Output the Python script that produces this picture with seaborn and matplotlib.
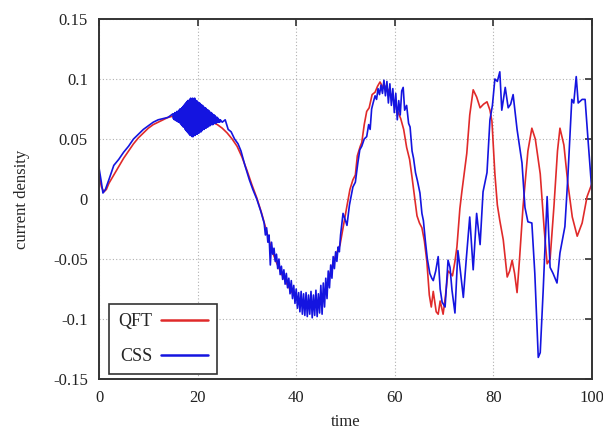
import matplotlib
matplotlib.use("Agg")
import matplotlib.pyplot as plt
import pandas as pd
import seaborn as sns

# ---------------- data ----------------
qft_time = [0, 0.5, 1.0, 1.5, 2, 3, 4, 5, 6, 7, 8, 9, 10, 11, 12, 13, 14, 15, 16, 17,
            18, 19, 20, 21, 22, 23, 24, 25, 26, 27, 28, 29, 30, 31, 32, 33, 34, 35, 36,
            37, 38, 39, 40, 41, 42, 43, 44, 45, 46, 46.8, 47.5, 48.2, 48.9, 49.5, 50.2,
            50.9, 51.5, 52.0, 52.4, 53.0, 53.3, 53.8, 54.3, 54.8, 55.4, 56.0, 56.5, 57.0,
            57.6, 58.2, 58.8, 59.4, 60.0, 60.6, 61.2, 61.8, 62.4, 63.0, 63.5, 64.0, 64.5,
            65.0, 65.5, 66.0, 66.5, 67.0, 67.4, 67.8, 68.4, 68.8, 69.2, 69.8, 70.3, 70.8,
            71.3, 71.7, 72.2, 72.6, 73.2, 73.6, 74.2, 74.6, 75.2, 75.9, 76.6, 77.3, 78.0,
            78.7, 79.3, 79.7, 80.3, 80.8, 81.3, 82.0, 82.8, 83.3, 83.8, 84.3, 84.8, 85.3,
            86.0, 87.0, 87.8, 88.5, 89.5, 90.3, 90.9, 91.5, 92.3, 93.0, 93.5, 94.3, 95.1,
            96.0, 97.0, 98.0, 99.0, 100.0]
qft_current = [0.020, 0.010, 0.006, 0.008, 0.013, 0.020, 0.027, 0.034, 0.040, 0.046,
               0.051, 0.055, 0.059, 0.062, 0.064, 0.066, 0.068, 0.069, 0.070, 0.070,
               0.0705, 0.070, 0.069, 0.068, 0.066, 0.064, 0.062, 0.059, 0.055, 0.050,
               0.044, 0.035, 0.024, 0.012, 0.001, -0.012, -0.027, -0.042, -0.053, -0.062,
               -0.070, -0.077, -0.082, -0.086, -0.088, -0.089, -0.087, -0.083, -0.075,
               -0.063, -0.053, -0.045, -0.038, -0.024, -0.008, 0.008, 0.016, 0.020, 0.036,
               0.044, 0.047, 0.062, 0.073, 0.076, 0.087, 0.089, 0.094, 0.0975, 0.093,
               0.094, 0.090, 0.086, 0.080, 0.073, 0.067, 0.058, 0.043, 0.033, 0.018,
               0.002, -0.014, -0.020, -0.024, -0.035, -0.052, -0.080, -0.090, -0.077,
               -0.094, -0.096, -0.085, -0.096, -0.080, -0.060, -0.062, -0.064, -0.052,
               -0.040, -0.008, 0.006, 0.025, 0.038, 0.070, 0.091, 0.085, 0.076, 0.079,
               0.081, 0.074, 0.065, 0.021, -0.005, -0.018, -0.034, -0.065, -0.060, -0.051,
               -0.062, -0.078, -0.050, -0.007, 0.040, 0.059, 0.050, 0.021, -0.025, -0.054,
               -0.050, -0.005, 0.040, 0.059, 0.045, 0.013, -0.015, -0.031, -0.020, 0.002,
               0.013]

# CSS: early smooth part
css_time_a = [0, 0.4, 0.8, 1.3, 2, 3, 4, 5, 6, 7, 8, 9, 10, 11, 12, 13, 14]
css_current_a = [0.026, 0.016, 0.005, 0.008, 0.016, 0.028, 0.033, 0.039, 0.044, 0.050,
                 0.054, 0.058, 0.061, 0.064, 0.066, 0.067, 0.068]
# CSS: dense fast oscillation around the first maximum
css_time_b = [15.0, 15.1, 15.2, 15.3, 15.4, 15.5, 15.6, 15.7, 15.8, 15.9,
              16.0, 16.1, 16.2, 16.3, 16.4, 16.5, 16.6, 16.7, 16.8, 16.9,
              17.0, 17.1, 17.2, 17.3, 17.4, 17.5, 17.6, 17.7, 17.8, 17.9,
              18.0, 18.1, 18.2, 18.3, 18.4, 18.5, 18.6, 18.7, 18.8, 18.9,
              19.0, 19.1, 19.2, 19.3, 19.4, 19.5, 19.6, 19.7, 19.8, 19.9,
              20.0, 20.1, 20.2, 20.3, 20.4, 20.5, 20.6, 20.7, 20.8, 20.9,
              21.0, 21.1, 21.2, 21.3, 21.4, 21.5, 21.6, 21.7, 21.8, 21.9,
              22.0, 22.1, 22.2, 22.3, 22.4, 22.5, 22.6, 22.7, 22.8, 22.9,
              23.0, 23.1, 23.2, 23.3, 23.4, 23.5, 23.6, 23.7, 23.8, 23.9,
              24.0, 24.1, 24.2, 24.3, 24.4, 24.5, 24.6]
css_current_b = [0.071, 0.067, 0.071, 0.066, 0.072, 0.066, 0.072, 0.065, 0.073, 0.065,
                 0.073, 0.064, 0.074, 0.064, 0.075, 0.063, 0.075, 0.062, 0.076, 0.061,
                 0.077, 0.060, 0.078, 0.060, 0.079, 0.058, 0.080, 0.057, 0.081, 0.056,
                 0.082, 0.055, 0.082, 0.054, 0.083, 0.053, 0.084, 0.053, 0.083, 0.052,
                 0.084, 0.052, 0.083, 0.053, 0.084, 0.053, 0.082, 0.054, 0.082, 0.054,
                 0.081, 0.055, 0.080, 0.055, 0.080, 0.056, 0.079, 0.056, 0.078, 0.057,
                 0.078, 0.058, 0.077, 0.058, 0.076, 0.059, 0.076, 0.059, 0.075, 0.060,
                 0.074, 0.060, 0.074, 0.061, 0.073, 0.061, 0.072, 0.062, 0.072, 0.062,
                 0.071, 0.062, 0.070, 0.063, 0.070, 0.063, 0.069, 0.063, 0.068, 0.064,
                 0.068, 0.064, 0.067, 0.064, 0.066, 0.064, 0.066]
# CSS: remainder
css_time_c = [25.0, 25.6, 26.2, 26.8, 27.5, 28.2, 28.8, 29.6, 30.5, 31.2, 32.0, 32.8,
              33.50, 33.75, 34.00, 34.25, 34.50, 34.75, 35.00, 35.25, 35.50, 35.75, 36.00,
              36.25, 36.50, 36.75, 37.00, 37.25, 37.50, 37.75, 38.00, 38.25, 38.50, 38.75,
              39.00, 39.25, 39.50, 39.75, 40.00, 40.25, 40.50, 40.75, 41.00, 41.25, 41.50,
              41.75, 42.00, 42.25, 42.50, 42.75, 43.00, 43.25, 43.50, 43.75, 44.00, 44.25,
              44.50, 44.75, 45.00, 45.25, 45.50, 45.75, 46.00, 46.25, 46.50, 46.75, 47.00,
              47.25, 47.50, 47.75, 48.00, 48.25, 48.50, 48.75, 49.00,
              49.5, 50.0, 50.3, 50.8, 51.5, 52.0, 52.5, 52.9, 53.3, 53.8, 54.3, 54.7, 55.0,
              55.3, 55.6, 56.0, 56.3, 56.6, 56.9, 57.2, 57.5, 57.8, 58.1, 58.4, 58.7, 59.0,
              59.3, 59.6, 59.9, 60.2, 60.5, 60.8, 61.1, 61.4, 61.7, 62.0, 62.4, 62.8, 63.1,
              63.5, 63.8, 64.2, 64.6, 65.1, 65.5, 65.8, 66.2, 66.6, 67.1, 67.5, 67.8, 68.3,
              68.8, 69.2, 69.6, 70.2, 70.8, 71.2, 71.6, 72.2, 72.8, 73.3, 73.9, 74.5, 75.2,
              75.9, 76.6, 77.3, 77.9, 78.7, 79.3, 79.8, 80.3, 80.8, 81.3, 81.7, 82.4, 83.0,
              83.5, 84.0, 84.8, 85.8, 86.4, 87.0, 87.8, 88.4, 89.1, 89.5, 90.1, 90.9, 91.5,
              92.1, 92.9, 93.5, 94.5, 95.1, 95.9, 96.3, 96.8, 97.2, 98.0, 98.6, 99.2, 100.0]
css_current_c = [0.064, 0.066, 0.058, 0.056, 0.050, 0.046, 0.040, 0.028, 0.016, 0.008,
                 0.000, -0.010,
                 -0.020, -0.030, -0.024, -0.036, -0.030, -0.055, -0.036, -0.046, -0.041,
                 -0.052, -0.046, -0.058, -0.050, -0.063, -0.056, -0.067, -0.059, -0.071,
                 -0.062, -0.074, -0.066, -0.079, -0.068, -0.083, -0.072, -0.087, -0.075,
                 -0.091, -0.078, -0.094, -0.077, -0.096, -0.079, -0.097, -0.078, -0.098,
                 -0.080, -0.096, -0.077, -0.099, -0.080, -0.097, -0.076, -0.098, -0.079,
                 -0.095, -0.072, -0.096, -0.070, -0.090, -0.066, -0.083, -0.060, -0.074,
                 -0.055, -0.066, -0.048, -0.058, -0.044, -0.052, -0.040, -0.044, -0.030,
                 -0.012, -0.018, -0.022, -0.005, 0.010, 0.014, 0.030, 0.041, 0.044, 0.050,
                 0.052, 0.062, 0.058, 0.075, 0.080, 0.086, 0.083, 0.092, 0.087, 0.095,
                 0.088, 0.099, 0.086, 0.098, 0.080, 0.096, 0.078, 0.092, 0.072, 0.088,
                 0.066, 0.082, 0.070, 0.090, 0.093, 0.074, 0.078, 0.063, 0.060, 0.040,
                 0.034, 0.022, 0.015, 0.005, -0.012, -0.018, -0.035, -0.050, -0.062,
                 -0.066, -0.068, -0.060, -0.048, -0.075, -0.086, -0.090, -0.051, -0.057,
                 -0.076, -0.095, -0.043, -0.060, -0.082, -0.050, -0.015, -0.059, -0.012,
                 -0.038, 0.006, 0.022, 0.066, 0.078, 0.100, 0.098, 0.106, 0.074, 0.093,
                 0.076, 0.079, 0.087, 0.058, 0.030, -0.007, -0.019, -0.020, -0.062,
                 -0.132, -0.128, -0.076, 0.002, -0.057, -0.062, -0.070, -0.045, -0.023,
                 0.018, 0.083, 0.080, 0.102, 0.080, 0.083, 0.083, 0.049, 0.005]

series_names = ["QFT", "CSS"]
series_colors = ["#e02a2a", "#1414e0"]
x_ticks = [0, 20, 40, 60, 80, 100]
y_ticks = [-0.15, -0.1, -0.05, 0, 0.05, 0.1, 0.15]
y_tick_labels = ["-0.15", "-0.1", "-0.05", "0", "0.05", "0.1", "0.15"]
x_label = "time"
y_label = "current density"

# ---------------- build the table ----------------
css_time = css_time_a + css_time_b + css_time_c
css_current = css_current_a + css_current_b + css_current_c
df = pd.concat([
    pd.DataFrame({"time": qft_time, "current": qft_current, "model": "QFT"}),
    pd.DataFrame({"time": css_time, "current": css_current, "model": "CSS"}),
], ignore_index=True)

sns.set_style("white")
plt.rcParams["font.family"] = ["Liberation Serif", "DejaVu Serif"]

fig = plt.figure(figsize=(6.03, 4.29), dpi=100)
ax = fig.add_axes([99 / 603, 1 - 379 / 429, 493 / 603, 360 / 429])

sns.lineplot(data=df, x="time", y="current", hue="model", hue_order=series_names,
             palette=dict(zip(series_names, series_colors)), estimator=None,
             sort=False, linewidth=1.2, ax=ax)

ax.set_xlim(0, 100)
ax.set_ylim(-0.15, 0.15)
ax.set_xticks(x_ticks)
ax.set_xticklabels([str(v) for v in x_ticks])
ax.set_yticks(y_ticks)
ax.set_yticklabels(y_tick_labels)

ax.grid(True, linestyle=(0, (1, 2)), color="#b0b0b0", linewidth=0.8)
ax.set_axisbelow(True)
for s in ax.spines.values():
    s.set_visible(True)
    s.set_color("#333333")
    s.set_linewidth(1.4)
ax.tick_params(direction="in", length=5, width=1.2, colors="#333333",
               top=True, right=True, labelsize=12, pad=8)
for lab in ax.get_xticklabels() + ax.get_yticklabels():
    lab.set_color("#222222")

ax.set_xlabel(x_label, fontsize=12)
ax.set_ylabel(y_label, fontsize=12)
ax.xaxis.set_label_coords(0.5, (379 - 414) / 360)
ax.yaxis.set_label_coords((30 - 99) / 493, 0.5)

handles, labels = ax.get_legend_handles_labels()
leg = ax.legend(handles, labels, loc="lower left",
                bbox_to_anchor=(10 / 493, 5 / 360), borderaxespad=0,
                markerfirst=False, fontsize=13, handlelength=2.6,
                handletextpad=0.5, labelspacing=1.0, borderpad=0.5,
                fancybox=False, framealpha=1, edgecolor="#333333")
leg.get_frame().set_linewidth(1.2)
for line in leg.get_lines():
    line.set_linewidth(1.8)

fig.savefig("out.png", dpi=100)
